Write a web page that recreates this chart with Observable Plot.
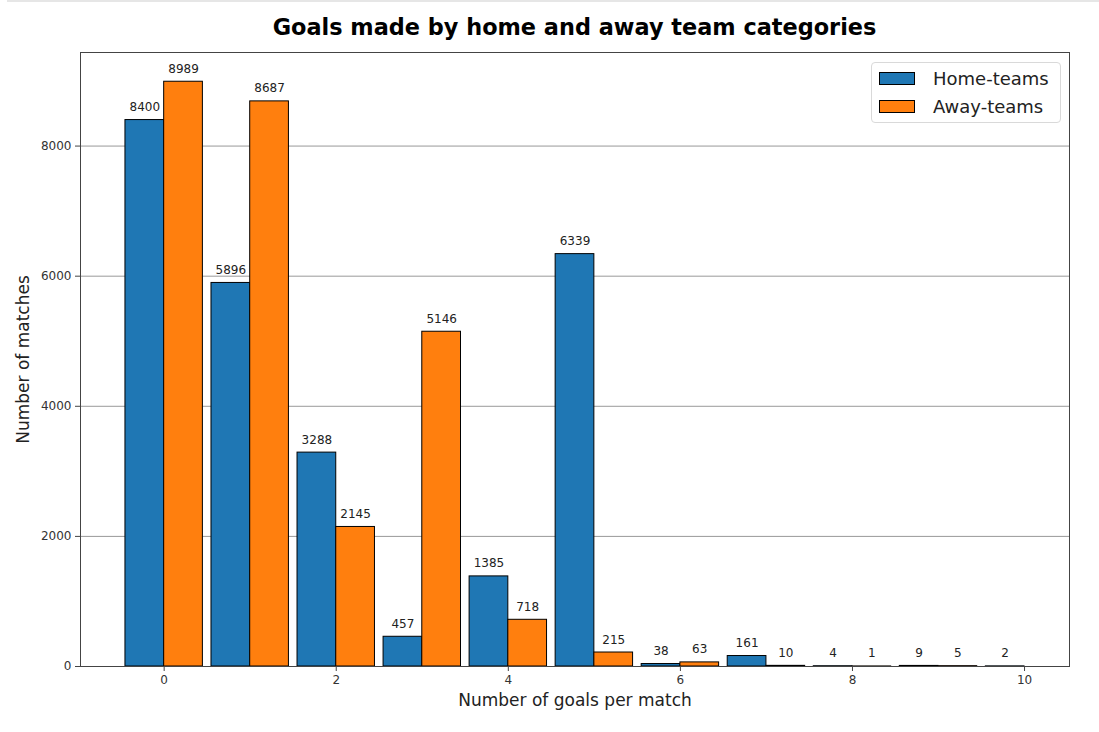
<!DOCTYPE html>
<html>
<head>
<meta charset="utf-8">
<script src="https://cdn.jsdelivr.net/npm/d3@7"></script>
<script src="https://cdn.jsdelivr.net/npm/@observablehq/plot@0.6"></script>
<style>
  html, body { margin: 0; padding: 0; background: #fff; }
  #wrap { position: relative; width: 1099px; height: 732px; font-family: "DejaVu Sans", sans-serif; overflow: hidden; }
  #topline { position: absolute; left: 7px; right: 0; top: 0; height: 2px; background: #e6e6e6; }
  #title { position: absolute; left: 80px; width: 989px; top: 12px; text-align: center; font-weight: bold; font-size: 22.4px; color: #000; line-height: 30px; }
  #chart { position: absolute; left: 0; top: 0; }
  #legend { position: absolute; left: 871px; top: 62px; width: 190px; height: 61px; border: 1px solid #d9d9d9; border-radius: 4px; background: rgba(255,255,255,0.8); box-sizing: border-box; }
  .item { position: absolute; left: 7px; height: 28px; display: flex; align-items: center; font-size: 18px; color: #222; }
  .sw { width: 36px; height: 13px; border: 1px solid #000; box-sizing: border-box; margin-right: 18px; }
</style>
</head>
<body>
<div id="wrap">
  <div id="topline"></div>
  <div id="chart"></div>
  <div id="title"></div>
  <div id="legend"></div>
</div>
<script>
const titleText = "Goals made by home and away team categories";
const xLabel = "Number of goals per match";
const yLabel = "Number of matches";
const seriesNames = ["Home-teams", "Away-teams"];
const seriesColors = ["#1f77b4", "#ff7f0e"];

const goals = [0, 1, 2, 3, 4, 5, 6, 7, 8, 9, 10];
const homeGoals = [8400, 5896, 3288, 457, 1385, 6339, 38, 161, 4, 9, 2];
const awayGoals = [8989, 8687, 2145, 5146, 718, 215, 63, 10, 1, 5];

const xTicks = [0, 2, 4, 6, 8, 10];
const yTicks = [0, 2000, 4000, 6000, 8000];
const gridLines = [2000, 4000, 6000, 8000];

const barWidth = 0.45;

const home = goals.map((g, i) => ({goal: g, value: homeGoals[i]})).filter(d => d.value != null);
const away = goals.map((g, i) => ({goal: g, value: awayGoals[i]})).filter(d => d.value != null);

const xMin = -barWidth, xMax = d3.max(goals);
const xPad = (xMax - xMin) * 0.05;
const yMax = d3.max([...homeGoals, ...awayGoals]) * 1.05;

document.getElementById("title").textContent = titleText;

const chart = Plot.plot({
  width: 1099,
  height: 732,
  marginLeft: 80,
  marginRight: 30,
  marginTop: 52,
  marginBottom: 66,
  style: {fontFamily: "DejaVu Sans, sans-serif", fontSize: "12px", color: "#333", background: "transparent"},
  x: {domain: [xMin - xPad, xMax + xPad]},
  y: {domain: [0, yMax]},
  marks: [
    Plot.ruleY(gridLines, {stroke: "#999", strokeWidth: 1}),
    Plot.rectY(home, {x1: d => d.goal - barWidth, x2: d => d.goal, y: "value", fill: seriesColors[0], stroke: "#000", strokeWidth: 1}),
    Plot.rectY(away, {x1: d => d.goal, x2: d => d.goal + barWidth, y: "value", fill: seriesColors[1], stroke: "#000", strokeWidth: 1}),
    Plot.text(home, {x: d => d.goal - barWidth / 2, y: "value", text: d => String(d.value), lineAnchor: "bottom", dy: -9, fill: "#222", fontSize: 12}),
    Plot.text(away, {x: d => d.goal + barWidth / 2, y: "value", text: d => String(d.value), lineAnchor: "bottom", dy: -9, fill: "#222", fontSize: 12}),
    Plot.frame({stroke: "#444", strokeWidth: 1}),
    Plot.axisX({ticks: xTicks, tickSize: 5, tickPadding: 4, tickFormat: "d", label: null, stroke: "#444", fill: "#333", fontSize: 12}),
    Plot.axisY({ticks: yTicks, tickSize: 5, tickPadding: 4, tickFormat: "d", label: null, stroke: "#444", fill: "#333", fontSize: 12}),
    Plot.text([xLabel], {frameAnchor: "bottom", dy: 34, text: d => d, fontSize: 17, fill: "#222", lineAnchor: "middle"}),
    Plot.text([yLabel], {frameAnchor: "left", dx: -57, rotate: -90, text: d => d, textAnchor: "middle", fontSize: 17, fill: "#222", lineAnchor: "middle"})
  ]
});
document.getElementById("chart").appendChild(chart);

const legend = document.getElementById("legend");
seriesNames.forEach((name, i) => {
  const item = document.createElement("div");
  item.className = "item";
  item.style.top = (1 + i * 28) + "px";
  const sw = document.createElement("div");
  sw.className = "sw";
  sw.style.background = seriesColors[i];
  const t = document.createElement("span");
  t.textContent = name;
  item.appendChild(sw);
  item.appendChild(t);
  legend.appendChild(item);
});
</script>
</body>
</html>
